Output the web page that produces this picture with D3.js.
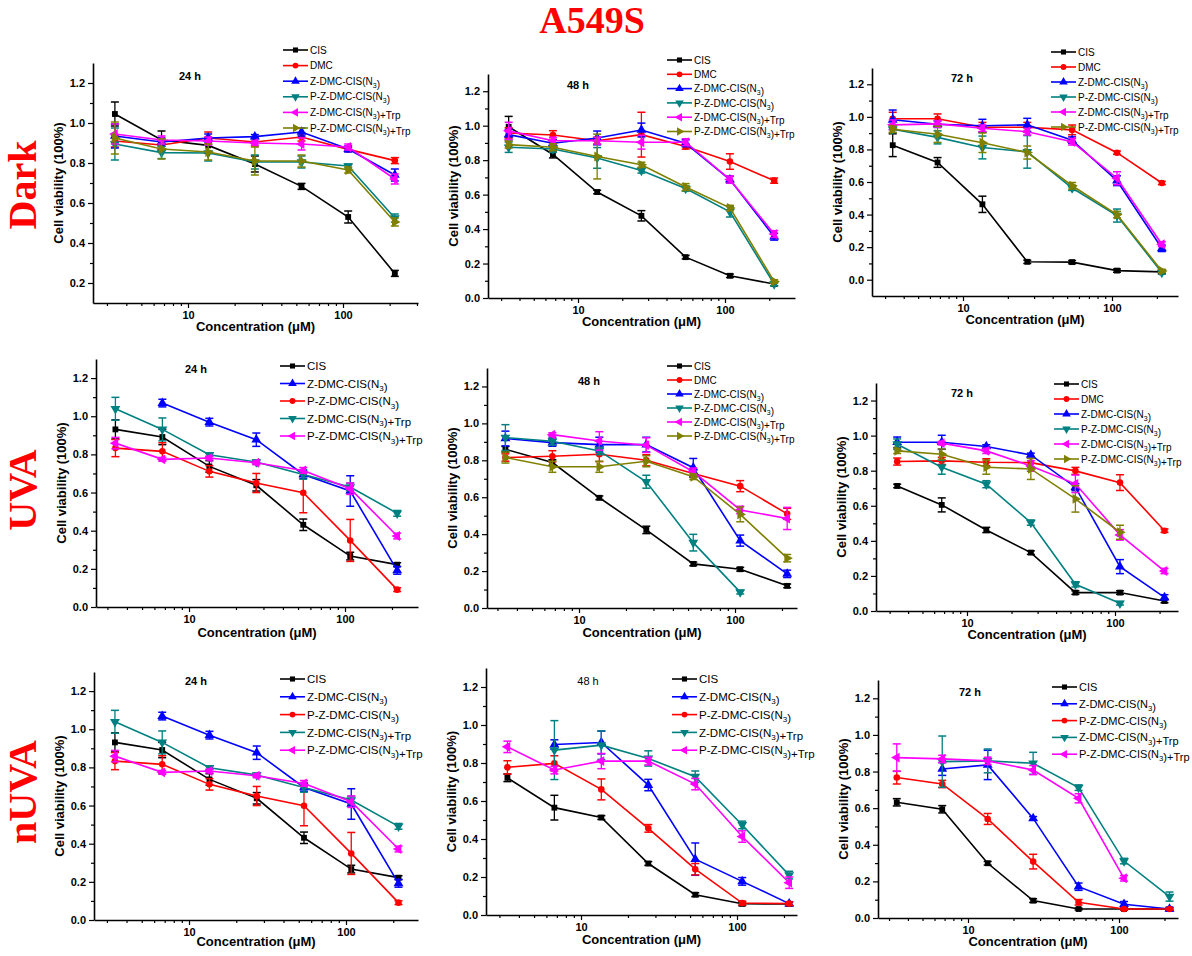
<!DOCTYPE html>
<html><head><meta charset="utf-8">
<script src="https://cdn.jsdelivr.net/npm/d3@7"></script>
<style>body{margin:0;background:#fff}svg{display:block}</style>
</head><body>
<svg id="chart" width="1192" height="956"></svg>
<script>
// ---------------- data ----------------
const conc = [3.375, 6.75, 13.5, 27, 54, 108, 216];
const namesSix = ["CIS", "DMC", "Z-DMC-CIS(N3)", "P-Z-DMC-CIS(N3)", "Z-DMC-CIS(N3)+Trp", "P-Z-DMC-CIS(N3)+Trp"];
const namesFive = ["CIS", "Z-DMC-CIS(N3)", "P-Z-DMC-CIS(N3)", "Z-DMC-CIS(N3)+Trp", "P-Z-DMC-CIS(N3)+Trp"];
const yTickValues = [0.0, 0.2, 0.4, 0.6, 0.8, 1.0, 1.2];
const xTickLabels = [10, 100];
const timeLabels = ["24 h", "48 h", "72 h"];
const rowLabels = ["Dark", "UVA", "nUVA"];
const chartTitle = "A549S";
const yAxisTitle = "Cell viability (100%)";
const xAxisTitle = "Concentration (\u03bcM)";

// Dark
const dark24Values = [
  [1.045, 0.915, 0.888, 0.795, 0.683, 0.530, 0.248],
  [0.910, 0.890, 0.925, 0.905, 0.930, 0.868, 0.812],
  [0.935, 0.905, 0.925, 0.932, 0.955, 0.870, 0.740],
  [0.895, 0.852, 0.850, 0.805, 0.805, 0.785, 0.525],
  [0.945, 0.915, 0.910, 0.900, 0.895, 0.880, 0.720],
  [0.925, 0.870, 0.855, 0.810, 0.810, 0.765, 0.505]
];
const dark24Errors = [
  [0.060, 0.045, 0.040, 0.040, 0.015, 0.030, 0.015],
  [0.030, 0.020, 0.030, 0.020, 0.020, 0.010, 0.015],
  [0.060, 0.020, 0.020, 0.010, 0.020, 0.015, 0.030],
  [0.080, 0.030, 0.040, 0.035, 0.030, 0.010, 0.020],
  [0.050, 0.020, 0.020, 0.010, 0.030, 0.015, 0.025],
  [0.080, 0.050, 0.040, 0.070, 0.030, 0.015, 0.020]
];
const dark48Values = [
  [0.994, 0.833, 0.615, 0.477, 0.237, 0.129, 0.081],
  [0.958, 0.946, 0.913, 0.948, 0.879, 0.792, 0.681],
  [0.948, 0.898, 0.929, 0.975, 0.898, 0.687, 0.356],
  [0.875, 0.865, 0.813, 0.740, 0.635, 0.500, 0.081],
  [0.970, 0.913, 0.913, 0.904, 0.904, 0.687, 0.371],
  [0.890, 0.875, 0.821, 0.773, 0.644, 0.523, 0.096]
];
const dark48Errors = [
  [0.060, 0.020, 0.010, 0.030, 0.010, 0.010, 0.010],
  [0.030, 0.025, 0.020, 0.130, 0.015, 0.045, 0.015],
  [0.030, 0.020, 0.040, 0.040, 0.020, 0.020, 0.020],
  [0.030, 0.020, 0.060, 0.015, 0.015, 0.030, 0.010],
  [0.050, 0.020, 0.020, 0.040, 0.020, 0.020, 0.020],
  [0.020, 0.020, 0.130, 0.015, 0.020, 0.015, 0.010]
];
const dark72Values = [
  [0.826, 0.720, 0.463, 0.110, 0.108, 0.056, 0.048],
  [0.988, 0.988, 0.936, 0.936, 0.920, 0.780, 0.594],
  [0.982, 0.955, 0.945, 0.951, 0.857, 0.608, 0.193],
  [0.924, 0.874, 0.812, 0.785, 0.563, 0.394, 0.044],
  [0.951, 0.957, 0.930, 0.909, 0.847, 0.623, 0.218],
  [0.924, 0.893, 0.841, 0.781, 0.577, 0.400, 0.054]
];
const dark72Errors = [
  [0.070, 0.030, 0.050, 0.010, 0.010, 0.010, 0.010],
  [0.040, 0.030, 0.030, 0.030, 0.030, 0.010, 0.010],
  [0.060, 0.020, 0.040, 0.040, 0.020, 0.030, 0.020],
  [0.020, 0.040, 0.070, 0.100, 0.015, 0.040, 0.010],
  [0.030, 0.020, 0.020, 0.020, 0.020, 0.040, 0.015],
  [0.020, 0.050, 0.060, 0.040, 0.020, 0.020, 0.010]
];

// UVA
const uva24Values = [
  [0.931, 0.891, 0.737, 0.638, 0.431, 0.267, 0.222],
  [null, 1.069, 0.969, 0.877, 0.695, 0.608, 0.192],
  [0.833, 0.816, 0.711, 0.650, 0.599, 0.349, 0.091],
  [1.039, 0.931, 0.798, 0.760, 0.695, 0.629, 0.491],
  [0.859, 0.774, 0.781, 0.756, 0.716, 0.620, 0.372]
];
const uva24Errors = [
  [0.050, 0.040, 0.030, 0.030, 0.030, 0.020, 0.010],
  [null, 0.020, 0.020, 0.035, 0.020, 0.080, 0.020],
  [0.045, 0.045, 0.030, 0.050, 0.105, 0.110, 0.010],
  [0.060, 0.060, 0.010, 0.010, 0.025, 0.020, 0.015],
  [0.030, 0.010, 0.010, 0.010, 0.015, 0.030, 0.015]
];
const uva48Values = [
  [0.860, 0.788, 0.597, 0.423, 0.239, 0.210, 0.120],
  [0.815, 0.822, 0.833, 0.800, 0.729, 0.660, 0.510],
  [0.918, 0.896, 0.885, 0.885, 0.760, 0.365, 0.185],
  [0.923, 0.903, 0.851, 0.684, 0.354, 0.086, null],
  [null, 0.939, 0.905, 0.882, 0.738, 0.531, 0.485],
  [0.815, 0.765, 0.765, 0.795, 0.711, 0.507, 0.270]
];
const uva48Errors = [
  [0.015, 0.015, 0.010, 0.020, 0.010, 0.010, 0.010],
  [0.020, 0.030, 0.040, 0.030, 0.020, 0.030, 0.030],
  [0.040, 0.020, 0.040, 0.040, 0.050, 0.030, 0.020],
  [0.070, 0.020, 0.020, 0.035, 0.045, 0.010, null],
  [null, 0.010, 0.050, 0.040, 0.020, 0.020, 0.060],
  [0.030, 0.030, 0.030, 0.030, 0.015, 0.040, 0.020]
];
const uva72Values = [
  [0.713, 0.605, 0.462, 0.333, 0.105, 0.105, 0.057],
  [0.852, 0.856, 0.848, 0.846, 0.799, 0.732, 0.458],
  [0.962, 0.962, 0.938, 0.890, 0.706, 0.253, 0.078],
  [0.951, 0.820, 0.723, 0.504, 0.152, 0.044, null],
  [null, 0.957, 0.913, 0.827, 0.725, 0.434, 0.228],
  [0.913, 0.894, 0.820, 0.810, 0.639, 0.449, null]
];
const uva72Errors = [
  [0.010, 0.040, 0.015, 0.010, 0.010, 0.010, 0.010],
  [0.020, 0.020, 0.020, 0.025, 0.020, 0.045, 0.010],
  [0.030, 0.040, 0.010, 0.010, 0.020, 0.040, 0.015],
  [0.030, 0.040, 0.020, 0.015, 0.015, 0.010, null],
  [null, 0.010, 0.015, 0.030, 0.050, 0.030, 0.015],
  [0.015, 0.030, 0.040, 0.060, 0.075, 0.040, null]
];

// nUVA
const nuva24Values = [
  [0.931, 0.891, 0.737, 0.638, 0.431, 0.267, 0.222],
  [null, 1.069, 0.969, 0.877, 0.695, 0.608, 0.192],
  [0.833, 0.816, 0.711, 0.650, 0.599, 0.349, 0.091],
  [1.039, 0.931, 0.798, 0.760, 0.695, 0.629, 0.491],
  [0.859, 0.774, 0.781, 0.756, 0.716, 0.620, 0.372]
];
const nuva24Errors = [
  [0.050, 0.040, 0.030, 0.030, 0.030, 0.020, 0.010],
  [null, 0.020, 0.020, 0.035, 0.020, 0.080, 0.020],
  [0.045, 0.045, 0.030, 0.050, 0.105, 0.110, 0.010],
  [0.060, 0.060, 0.010, 0.010, 0.025, 0.020, 0.015],
  [0.030, 0.010, 0.010, 0.010, 0.015, 0.030, 0.015]
];
const nuva48Values = [
  [0.722, 0.565, 0.513, 0.271, 0.107, 0.059, 0.058],
  [null, 0.897, 0.908, 0.684, 0.294, 0.177, 0.060],
  [0.777, 0.798, 0.661, 0.456, 0.241, 0.063, 0.060],
  [null, 0.868, 0.894, 0.824, 0.728, 0.474, 0.210],
  [0.885, 0.763, 0.810, 0.810, 0.689, 0.413, 0.170]
];
const nuva48Errors = [
  [0.020, 0.065, 0.010, 0.010, 0.010, 0.010, 0.010],
  [null, 0.025, 0.060, 0.030, 0.085, 0.020, 0.010],
  [0.035, 0.040, 0.055, 0.020, 0.030, 0.010, 0.010],
  [null, 0.155, 0.075, 0.040, 0.030, 0.020, 0.020],
  [0.030, 0.020, 0.040, 0.020, 0.030, 0.030, 0.030]
];
const nuva72Values = [
  [0.632, 0.594, 0.299, 0.095, 0.049, 0.049, 0.049],
  [null, 0.814, 0.836, 0.544, 0.171, 0.075, 0.049],
  [0.767, 0.732, 0.541, 0.308, 0.086, 0.049, 0.049],
  [null, 0.854, 0.858, 0.845, 0.712, 0.311, 0.117],
  [0.876, 0.869, 0.858, 0.808, 0.654, 0.217, null]
];
const nuva72Errors = [
  [0.020, 0.020, 0.010, 0.010, 0.005, 0.005, 0.005],
  [null, 0.035, 0.080, 0.010, 0.020, 0.015, 0.010],
  [0.035, 0.020, 0.030, 0.040, 0.015, 0.005, 0.005],
  [null, 0.140, 0.065, 0.060, 0.015, 0.015, 0.025],
  [0.075, 0.020, 0.020, 0.025, 0.025, 0.015, null]
];

// ---------------- styles ----------------
const colorsSix = ["#000000", "#ff0000", "#0000ff", "#008080", "#ff00ff", "#808000"];
const shapesSix = ["square", "circle", "up", "down", "left", "right"];
const colorsFive = ["#000000", "#0000ff", "#ff0000", "#008080", "#ff00ff"];
const shapesFive = ["square", "up", "circle", "down", "left"];

const panels = [
  {vals: dark24Values, errs: dark24Errors, names: namesSix, colors: colorsSix, shapes: shapesSix, time: 0,
   left: 93, right: 418, x10: 188, x100: 343, top: 63, bottom: 303, ymin: 0.1, xty: 328,
   tx: 190, ty: 77, tb: true, lx: 283, ly: 50, ldy: 15.6, lfs: 10},
  {vals: dark48Values, errs: dark48Errors, names: namesSix, colors: colorsSix, shapes: shapesSix, time: 1,
   left: 488, right: 795, x10: 578, x100: 725, top: 74, bottom: 298, ymin: 0, xty: 323,
   tx: 578, ty: 86, tb: true, lx: 667, ly: 60, ldy: 14.3, lfs: 10},
  {vals: dark72Values, errs: dark72Errors, names: namesSix, colors: colorsSix, shapes: shapesSix, time: 2,
   left: 872, right: 1178, x10: 963, x100: 1112, top: 68, bottom: 296, ymin: -0.1, xty: 321,
   tx: 962, ty: 79, tb: true, lx: 1051, ly: 52, ldy: 15, lfs: 10},
  {vals: uva24Values, errs: uva24Errors, names: namesFive, colors: colorsFive, shapes: shapesFive, time: 0,
   left: 96, right: 418, x10: 189, x100: 345, top: 359, bottom: 607, ymin: 0, xty: 634,
   tx: 196, ty: 370, tb: true, lx: 280, ly: 366, ldy: 17.5, lfs: 11.5},
  {vals: uva48Values, errs: uva48Errors, names: namesSix, colors: colorsSix, shapes: shapesSix, time: 1,
   left: 487, right: 797, x10: 579, x100: 735, top: 368, bottom: 608, ymin: 0, xty: 634,
   tx: 589, ty: 382, tb: true, lx: 667, ly: 366, ldy: 14, lfs: 10},
  {vals: uva72Values, errs: uva72Errors, names: namesSix, colors: colorsSix, shapes: shapesSix, time: 2,
   left: 876, right: 1178, x10: 967, x100: 1115, top: 383, bottom: 611, ymin: 0, xty: 636,
   tx: 962, ty: 394, tb: true, lx: 1054, ly: 384, ldy: 15, lfs: 10},
  {vals: nuva24Values, errs: nuva24Errors, names: namesFive, colors: colorsFive, shapes: shapesFive, time: 0,
   left: 94, right: 418, x10: 189, x100: 346, top: 672, bottom: 920, ymin: 0, xty: 943,
   tx: 196, ty: 682, tb: true, lx: 280, ly: 679, ldy: 17.8, lfs: 11.5},
  {vals: nuva48Values, errs: nuva48Errors, names: namesFive, colors: colorsFive, shapes: shapesFive, time: 1,
   left: 486, right: 797, x10: 581, x100: 737, top: 668, bottom: 915, ymin: 0, xty: 941,
   tx: 588, ty: 682, tb: false, lx: 672, ly: 679, ldy: 17.8, lfs: 11.5},
  {vals: nuva72Values, errs: nuva72Errors, names: namesFive, colors: colorsFive, shapes: shapesFive, time: 2,
   left: 878, right: 1178, x10: 968, x100: 1119, top: 680, bottom: 918, ymin: 0, xty: 943,
   tx: 970, ty: 693, tb: true, lx: 1052, ly: 687, ldy: 16.8, lfs: 11}
];

const FONT = "'Liberation Sans', Arial, Helvetica, sans-serif";
const SERIF = "'Liberation Serif', 'Times New Roman', serif";
const svg = d3.select("#chart");

function symbolPath(shape, size) {
  const t = {square: d3.symbolSquare, circle: d3.symbolCircle}[shape] || d3.symbolTriangle;
  return d3.symbol().type(t).size(size)();
}
function rot(shape) {
  return {down: 180, left: -90, right: 90}[shape] || 0;
}
function writeName(textSel, name, fs) {
  const parts = name.split("N3");
  parts.forEach((p, i) => {
    if (p) textSel.append("tspan").text(p);
    if (i < parts.length - 1) {
      textSel.append("tspan").text("N");
      textSel.append("tspan").attr("font-size", fs * 0.7).attr("dy", fs * 0.3).text("3");
      textSel.append("tspan").attr("dy", -fs * 0.3).text("");
    }
  });
}

// title & row labels
svg.append("text").attr("x", 592).attr("y", 33).attr("text-anchor", "middle")
  .attr("font-family", SERIF).attr("font-weight", "bold").attr("font-size", 38)
  .attr("fill", "#ff0000").text(chartTitle);
const rowCenters = [185, 490, 792];
rowLabels.forEach((lab, i) => {
  svg.append("text").attr("transform", `translate(36,${rowCenters[i]}) rotate(-90)`)
    .attr("text-anchor", "middle").attr("font-family", SERIF).attr("font-weight", "bold")
    .attr("font-size", 40).attr("fill", "#ff0000").text(lab);
});

panels.forEach(p => {
  const g = svg.append("g");
  const base = d3.scaleLog().domain([10, 100]).range([p.x10, p.x100]);
  const x = d3.scaleLog().domain([base.invert(p.left), base.invert(p.right)]).range([p.left, p.right]);
  const y = d3.scaleLinear().domain([p.ymin, 1.3]).range([p.bottom, p.top]);

  // x axis minor ticks
  const minor = x.ticks().filter(v => !xTickLabels.includes(v));
  const xMinor = g.append("g").attr("transform", `translate(0,${p.bottom})`)
    .call(d3.axisBottom(x).tickValues(minor).tickSize(3).tickSizeOuter(0).tickFormat(""));
  xMinor.select(".domain").remove();
  const xMaj = g.append("g").attr("transform", `translate(0,${p.bottom})`)
    .call(d3.axisBottom(x).tickValues(xTickLabels).tickSize(5).tickSizeOuter(0).tickPadding(3).tickFormat(d3.format("d")));
  xMaj.selectAll("text").attr("font-family", FONT).attr("font-weight", "bold").attr("font-size", 11).attr("fill", "#000");
  g.selectAll(".tick line").attr("stroke", "#000").attr("stroke-width", 1.2);
  xMaj.select(".domain").attr("stroke-width", 1.6);

  // y axis
  const majors = yTickValues.filter(v => v >= p.ymin - 1e-9);
  const yMinorVals = [];
  majors.forEach(v => { if (v + 0.1 < 1.3) yMinorVals.push(+(v + 0.1).toFixed(2)); });
  const yMinor = g.append("g").attr("transform", `translate(${p.left},0)`)
    .call(d3.axisLeft(y).tickValues(yMinorVals).tickSize(3).tickSizeOuter(0).tickFormat(""));
  yMinor.select(".domain").remove();
  const yMaj = g.append("g").attr("transform", `translate(${p.left},0)`)
    .call(d3.axisLeft(y).tickValues(majors).tickSize(5).tickSizeOuter(0).tickPadding(3).tickFormat(d3.format(".1f")));
  yMaj.selectAll("text").attr("font-family", FONT).attr("font-weight", "bold").attr("font-size", 11).attr("fill", "#000");
  yMaj.select(".domain").attr("stroke-width", 1.6);
  g.selectAll(".tick line").attr("stroke", "#000").attr("stroke-width", 1.2);

  // axis titles
  g.append("text").attr("transform", `translate(${p.left - 33},${(p.top + p.bottom) / 2}) rotate(-90)`)
    .attr("text-anchor", "middle").attr("dominant-baseline", "middle")
    .attr("font-family", FONT).attr("font-weight", "bold").attr("font-size", 13).text(yAxisTitle);
  g.append("text").attr("x", (p.left + p.right) / 2).attr("y", p.xty)
    .attr("text-anchor", "middle").attr("dominant-baseline", "middle").attr("font-family", FONT)
    .attr("font-weight", "bold").attr("font-size", 13).text(xAxisTitle);

  // panel time label
  g.append("text").attr("x", p.tx).attr("y", p.ty).attr("text-anchor", "middle")
    .attr("dominant-baseline", "middle").attr("font-family", FONT)
    .attr("font-weight", p.tb ? "bold" : "normal").attr("font-size", 11).text(timeLabels[p.time]);

  // series
  p.vals.forEach((vals, si) => {
    const col = p.colors[si], shape = p.shapes[si];
    const pts = conc.map((c, i) => ({c, v: vals[i], e: p.errs[si][i]})).filter(d => d.v != null);
    const sg = g.append("g");
    sg.append("path").datum(pts)
      .attr("d", d3.line().x(d => x(d.c)).y(d => y(d.v)))
      .attr("fill", "none").attr("stroke", col).attr("stroke-width", 1.6);
    pts.forEach(d => {
      const cx = x(d.c), y1 = y(d.v + d.e), y2 = y(d.v - d.e);
      sg.append("line").attr("x1", cx).attr("x2", cx).attr("y1", y1).attr("y2", y2)
        .attr("stroke", col).attr("stroke-width", 1.3);
      [y1, y2].forEach(yy => sg.append("line").attr("x1", cx - 4).attr("x2", cx + 4)
        .attr("y1", yy).attr("y2", yy).attr("stroke", col).attr("stroke-width", 1.5));
      sg.append("path").attr("d", symbolPath(shape, shape === "square" || shape === "circle" ? 34 : 42))
        .attr("transform", `translate(${cx},${y(d.v)}) rotate(${rot(shape)})`).attr("fill", col);
    });
  });

  // legend
  p.names.forEach((name, si) => {
    const ly = p.ly + si * p.ldy, col = p.colors[si], shape = p.shapes[si];
    g.append("line").attr("x1", p.lx).attr("x2", p.lx + 25).attr("y1", ly).attr("y2", ly)
      .attr("stroke", col).attr("stroke-width", 1.6);
    g.append("path").attr("d", symbolPath(shape, shape === "square" || shape === "circle" ? 26 : 32))
      .attr("transform", `translate(${p.lx + 12.5},${ly}) rotate(${rot(shape)})`).attr("fill", col);
    const t = g.append("text").attr("x", p.lx + 27).attr("y", ly + p.lfs * 0.36)
      .attr("font-family", FONT).attr("font-size", p.lfs).attr("fill", "#000");
    writeName(t, name, p.lfs);
  });
});
</script>
</body></html>
